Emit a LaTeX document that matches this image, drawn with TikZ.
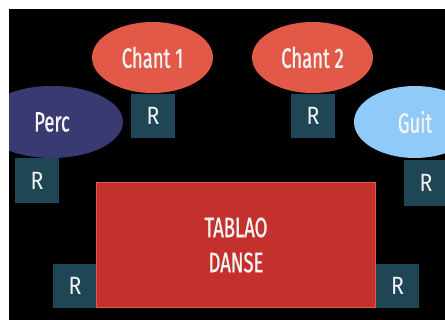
\documentclass[tikz,border=0pt]{standalone}
\usepackage{fontspec}
\usetikzlibrary{shapes.geometric}
\newfontfamily\condfont[FakeStretch=0.66,FakeBold=0.9]{Fira Sans}
\newfontfamily\rfont[FakeStretch=0.85]{Fira Sans}
\definecolor{chantred}{HTML}{E25A47}
\definecolor{percblue}{HTML}{3A3A72}
\definecolor{guitblue}{HTML}{90CAF9}
\definecolor{rteal}{HTML}{1E4654}
\definecolor{tabfill}{HTML}{C4302B}
\definecolor{tabline}{HTML}{E8584A}
\definecolor{txt}{HTML}{F4F4F4}
\tikzset{
  ell/.style={ellipse, inner sep=0pt, text=txt, font=\condfont\fontsize{28}{30}\selectfont},
  rbox/.style={rectangle, fill=rteal, inner sep=0pt, minimum width=44pt, minimum height=44pt, text=txt, font=\rfont\fontsize{25}{30}\selectfont},
}
\begin{document}
\begin{tikzpicture}[x=1pt,y=-1pt]
\useasboundingbox (0,0) rectangle (445,320);
\fill[white] (0,0) rectangle (445,320);
\fill[black] (9,9) rectangle (445,320);
\begin{scope}
\clip (9,9) rectangle (445,320);
\node[ell, fill=chantred, minimum width=121pt, minimum height=71pt] (chant1) at (152.5,57.5) {Chant 1};
\node[ell, fill=chantred, minimum width=121pt, minimum height=71pt] (chant2) at (312.5,57.5) {Chant 2};
\node[ell, fill=percblue, minimum width=142pt, minimum height=72pt] (perc) at (52,122) {Perc};
\node[ell, fill=guitblue, minimum width=122pt, minimum height=72pt] (guit) at (415,122) {Guit};
\node[rbox] (r1) at (153,116) {R};
\node[rbox] (r2) at (313,116) {R};
\node[rbox, minimum height=45pt] (rl) at (37,180.5) {R};
\node[rbox, minimum height=46pt] (rr) at (426,183) {R};
\node[rbox] (rbl) at (75,286) {R};
\node[rbox, minimum width=43pt] (rbr) at (397.5,286) {R};
\node[rectangle, fill=tabfill, draw=tabline, line width=1.5pt, minimum width=279pt, minimum height=125pt, inner sep=0pt, align=center, text=txt, font=\condfont\fontsize{28}{35}\selectfont] (tablao) at (236,245) {TABLAO\\DANSE};
\end{scope}
\end{tikzpicture}
\end{document}
